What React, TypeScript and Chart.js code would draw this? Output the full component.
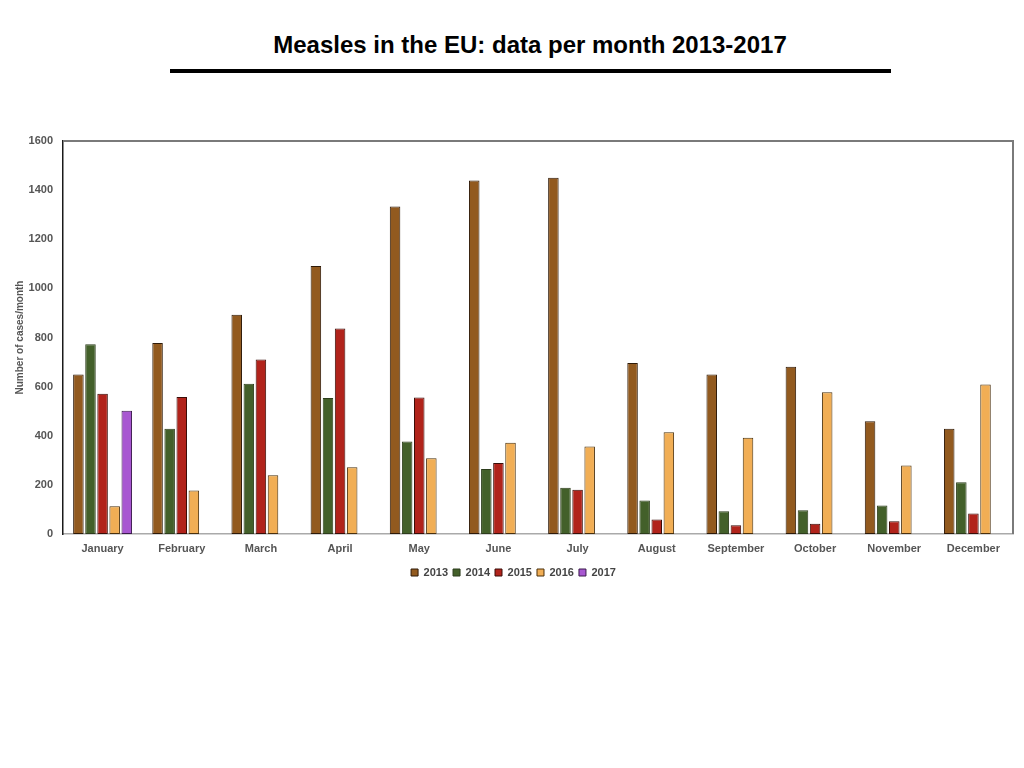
import React, { useEffect, useRef } from "react";
import { Chart, registerables } from "chart.js";

Chart.register(...registerables);

const months = [
  "January", "February", "March", "April", "May", "June",
  "July", "August", "September", "October", "November", "December",
];
const years = ["2013", "2014", "2015", "2016", "2017"];
const cases2013 = [649, 778, 893, 1091, 1333, 1439, 1450, 696, 649, 681, 459, 429];
const cases2014 = [773, 428, 612, 554, 377, 265, 188, 136, 93, 97, 116, 211];
const cases2015 = [571, 558, 710, 837, 556, 289, 180, 59, 36, 42, 52, 83];
const cases2016 = [113, 177, 239, 272, 308, 371, 356, 414, 392, 577, 279, 609];
const cases2017 = [502, null, null, null, null, null, null, null, null, null, null, null];
const yTicks = [0, 200, 400, 600, 800, 1000, 1200, 1400, 1600];

const fills = ["#925a1f", "#43602a", "#b1231b", "#f1ae55", "#a857d1"];
const edges = ["#2e1a08", "#2c3d1c", "#3a0d08", "#4a300c", "#3b1a4d"];

const FONT = "'Liberation Sans', Arial, Helvetica, sans-serif";

const frameLines = {
  id: "frameLines",
  afterDraw(chart: any) {
    const { ctx, chartArea } = chart;
    ctx.save();
    ctx.strokeStyle = "#7a7a7a";
    ctx.lineWidth = 2;
    ctx.beginPath();
    ctx.moveTo(chartArea.left, chartArea.top);
    ctx.lineTo(chartArea.right, chartArea.top);
    ctx.lineTo(chartArea.right, chartArea.bottom);
    ctx.stroke();
    ctx.restore();
  },
};

export default function App() {
  const ref = useRef<HTMLCanvasElement | null>(null);

  useEffect(() => {
    if (!ref.current) return;
    const series = [cases2013, cases2014, cases2015, cases2016, cases2017];
    const chart = new Chart(ref.current, {
      type: "bar",
      data: {
        labels: months,
        datasets: series.map((d, i) => ({
          label: years[i],
          data: d,
          backgroundColor: fills[i],
          borderColor: edges[i],
          borderWidth: 1,
          borderSkipped: false,
          categoryPercentage: 0.764,
          barPercentage: 0.87,
        })),
      },
      options: {
        responsive: false,
        animation: false,
        maintainAspectRatio: false,
        layout: { padding: { top: 21, right: 11, left: 14, bottom: 12 } },
        plugins: {
          title: { display: false },
          tooltip: { enabled: false },
          legend: {
            position: "bottom",
            labels: {
              boxWidth: 7,
              boxHeight: 7,
              padding: 5,
              color: "#444",
              font: { family: FONT, size: 11, weight: "bold" },
            },
          },
        },
        scales: {
          x: {
            grid: { display: false, drawTicks: false },
            border: { display: true, color: "#aaaaaa", width: 1.5 },
            ticks: {
              padding: 8,
              color: "#555",
              font: { family: FONT, size: 11, weight: "bold" },
              maxRotation: 0,
              autoSkip: false,
            },
            afterFit: (s: any) => { s.height = 28; },
          },
          y: {
            min: 0,
            max: 1600,
            afterBuildTicks: (s: any) => { s.ticks = yTicks.map((v) => ({ value: v })); },
            grid: { display: false, drawTicks: false },
            border: { display: true, color: "#1a1a1a", width: 1.5 },
            ticks: {
              padding: 10,
              color: "#555",
              font: { family: FONT, size: 11, weight: "bold" },
              callback: (v: any) => String(v),
            },
            title: {
              display: true,
              text: "Number of cases/month",
              color: "#555",
              padding: { top: 0, bottom: 0 },
              font: { family: FONT, size: 10, weight: "bold" },
            },
            afterFit: (s: any) => { s.width = 49; },
          },
        },
      },
      plugins: [frameLines],
    });
    return () => chart.destroy();
  }, []);

  return (
    <div style={{ position: "absolute", left: 0, top: 0, width: 1024, height: 768, background: "#fff", overflow: "hidden" }}>
      <div
        style={{
          position: "absolute", left: 0, top: 31, width: 1060, textAlign: "center",
          fontFamily: FONT, fontWeight: "bold", fontSize: 24, lineHeight: "28px", color: "#000",
        }}
      >
        <span style={{ display: "inline-block" }}>Measles in the EU: data per month 2013-2017</span>
      </div>
      <div style={{ position: "absolute", left: 170, top: 69, width: 721, height: 4, background: "#000" }} />
      <canvas ref={ref} width={1024} height={480} style={{ position: "absolute", left: 0, top: 120, width: 1024, height: 480 }} />
    </div>
  );
}
